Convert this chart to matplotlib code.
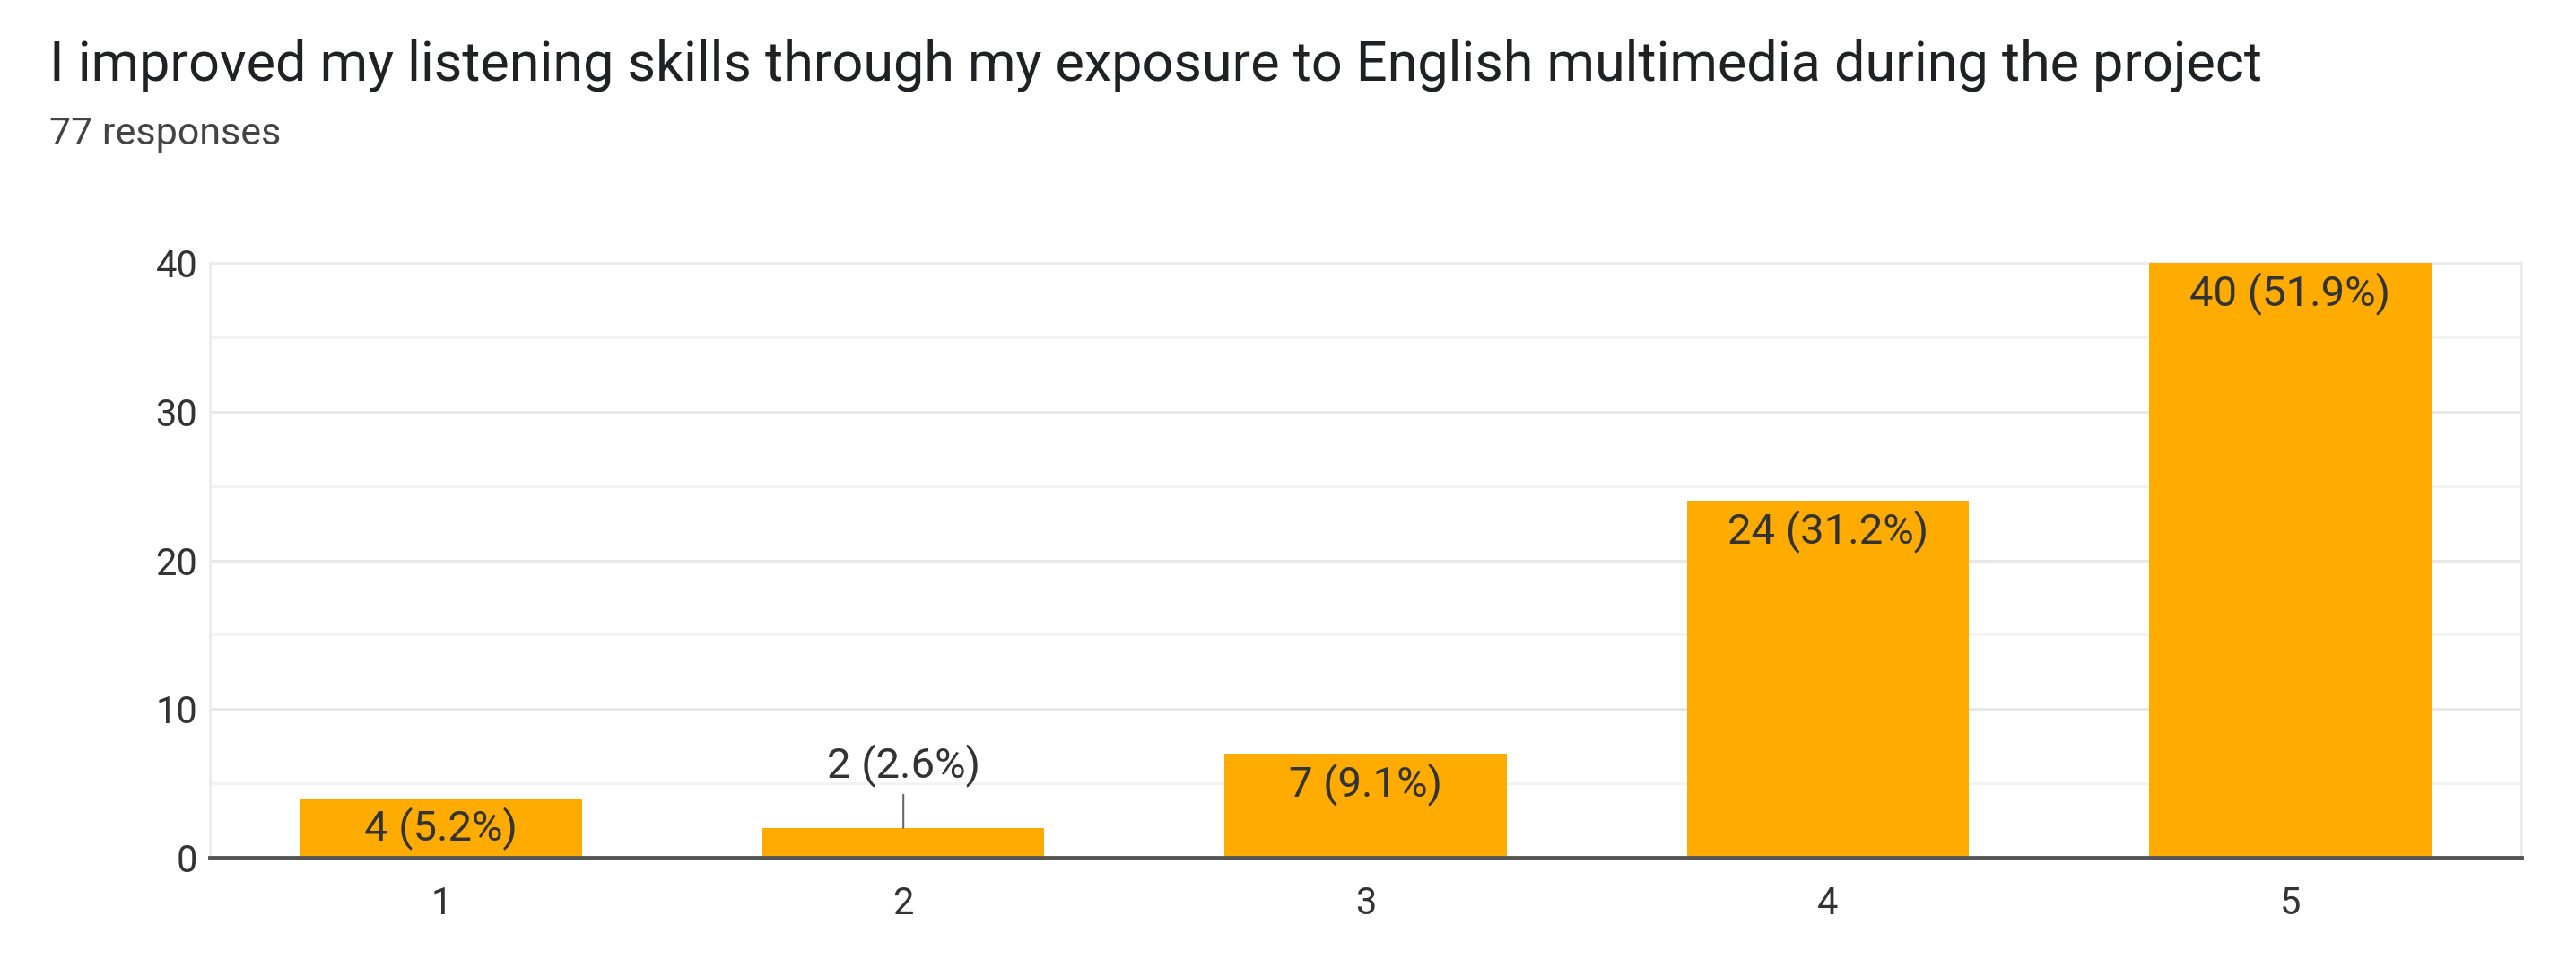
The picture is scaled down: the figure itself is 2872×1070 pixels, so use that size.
import matplotlib.pyplot as plt
from matplotlib.ticker import MultipleLocator

plt.rcParams['font.family'] = ['Roboto', 'DejaVu Sans']

# survey data
categories = ['1', '2', '3', '4', '5']
counts = [4, 2, 7, 24, 40]
percents = [5.2, 2.6, 9.1, 31.2, 51.9]
title = "I improved my listening skills through my exposure to English multimedia during the project"
subtitle = "77 responses"

bar_color = '#FFAB00'
text_color = '#333333'

fig = plt.figure(figsize=(28.72, 10.70), dpi=100)
ax = fig.add_axes([0.0815, 0.1065, 0.8973, 0.6195])

x = range(len(categories))
ax.bar(x, counts, width=0.61, color=bar_color, zorder=3)

ax.set_xlim(-0.5, len(categories) - 0.5)
ax.set_ylim(0, 40)
ax.set_xticks(list(x))
ax.set_xticklabels(categories)
ax.yaxis.set_major_locator(MultipleLocator(10))
ax.yaxis.set_minor_locator(MultipleLocator(5))
ax.grid(axis='y', which='major', color='#e6e6e6', lw=2, zorder=0)
ax.grid(axis='y', which='minor', color='#f2f2f2', lw=2, zorder=0)
ax.tick_params(axis='both', which='both', length=0, labelsize=30, colors=text_color)
ax.tick_params(axis='x', pad=22)
ax.tick_params(axis='y', pad=10)

for side in ['left', 'right', 'top']:
    ax.spines[side].set_color('#ececec')
    ax.spines[side].set_linewidth(2)
ax.spines['bottom'].set_color('#555555')
ax.spines['bottom'].set_linewidth(3.5)
ax.spines['bottom'].set_zorder(4)

# value labels
for i, (c, p) in enumerate(zip(counts, percents)):
    lab = f"{c} ({p}%)"
    if c < 3:
        ax.annotate(lab, xy=(i, c), xytext=(0, 50), textcoords='offset points',
                    ha='center', va='center', fontsize=34, color=text_color,
                    arrowprops=dict(arrowstyle='-', color='#666666', lw=1.5,
                                    shrinkA=4, shrinkB=0), zorder=5)
    else:
        ax.annotate(lab, xy=(i, c), xytext=(0, -7), textcoords='offset points',
                    ha='center', va='top', fontsize=34, color=text_color, zorder=5)

fig.text(55 / 2872, 1 - 73 / 1070, title, fontsize=44, color='#202124', va='center', ha='left')
fig.text(55 / 2872, 1 - 150 / 1070, subtitle, fontsize=31, color='#444444', va='center', ha='left')

fig.savefig('out.png', dpi=100, facecolor='white')
